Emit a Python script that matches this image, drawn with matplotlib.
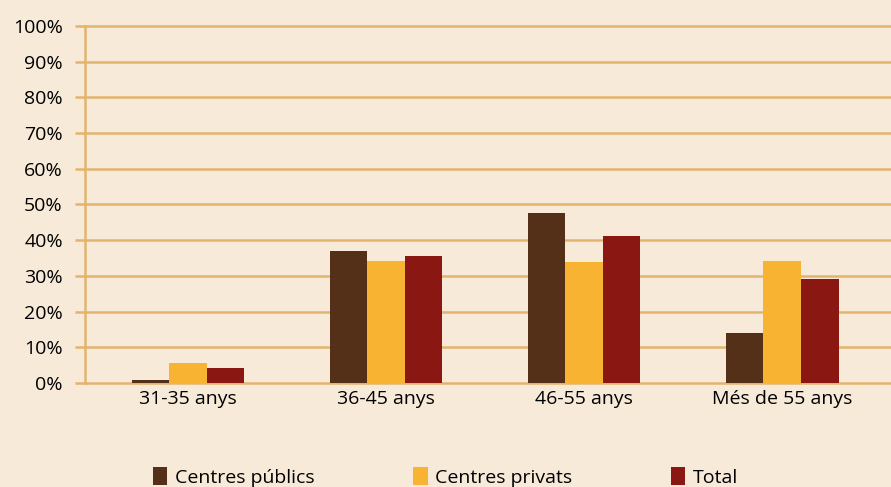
import numpy as np
import matplotlib.pyplot as plt
from matplotlib.ticker import FuncFormatter

# age groups and shares (%)
categories = ["31-35 anys", "36-45 anys", "46-55 anys", "Més de 55 anys"]
publics = [0.9, 37.0, 47.6, 14.0]
privats = [5.6, 34.2, 33.9, 34.2]
total = [4.2, 35.6, 41.2, 29.1]
series_names = ["Centres públics", "Centres privats", "Total"]

bg = "#F7EAD9"
grid_col = "#E4B46E"
colors = ["#553018", "#F8B333", "#8B1713"]

plt.rcParams['font.family'] = ['Open Sans', 'DejaVu Sans']

fig = plt.figure(figsize=(8.91, 4.87), dpi=100, facecolor=bg)
ax = fig.add_axes([0.0954, 0.2136, 0.9046, 0.733])
ax.set_facecolor(bg)

x = np.arange(len(categories))
w = 0.19
for i, (vals, name) in enumerate(zip([publics, privats, total], series_names)):
    ax.bar(x + (i - 1) * w, vals, width=w, color=colors[i], label=name, zorder=3)

ax.set_xlim(-0.52, 3.55)
ax.set_ylim(0, 100)
ax.set_yticks(np.arange(0, 101, 10))
ax.yaxis.set_major_formatter(FuncFormatter(lambda v, p: f"{int(v)}%"))
ax.set_xticks(x)
ax.set_xticklabels(categories)

ax.grid(axis='y', color=grid_col, linewidth=1.8, zorder=0)
for ln in ax.get_ygridlines():
    ln.set_clip_on(False)
for s in ["top", "right", "bottom"]:
    ax.spines[s].set_visible(False)
ax.spines["left"].set_color(grid_col)
ax.spines["left"].set_linewidth(1.8)
ax.tick_params(axis='y', length=7, width=1.8, color=grid_col, labelsize=14, pad=9)
ax.tick_params(axis='x', length=0, labelsize=14, pad=5)

fig.legend(loc='lower center', bbox_to_anchor=(0.5, -0.035), ncol=3, frameon=False,
           fontsize=14, handlelength=0.75, handleheight=1.0, columnspacing=5.05,
           handletextpad=0.4)

plt.savefig("out.png", dpi=100, facecolor=bg)
